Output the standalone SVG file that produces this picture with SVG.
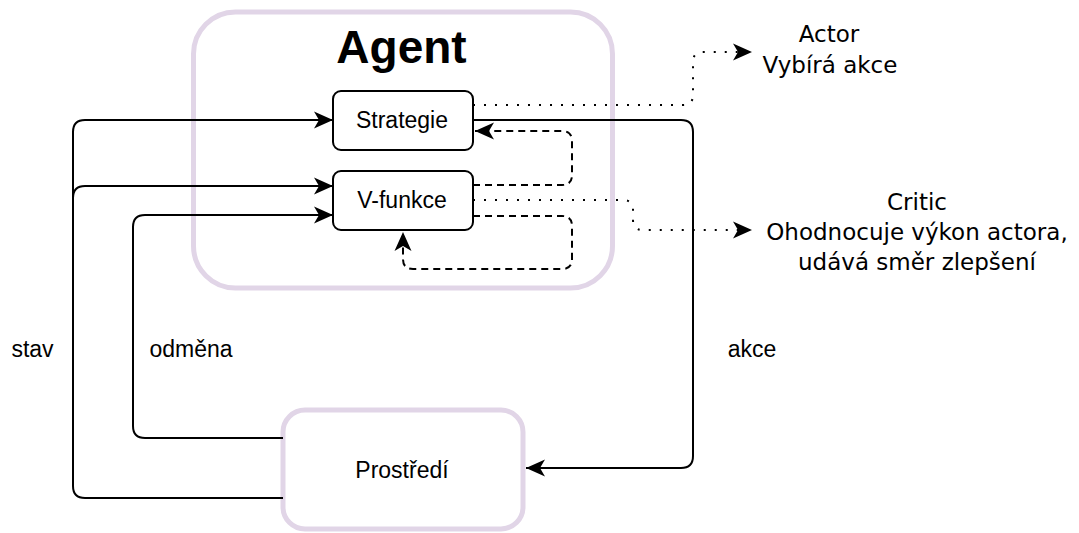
<svg xmlns="http://www.w3.org/2000/svg" width="1079" height="533" viewBox="0 0 1079 533">
  <style>
    .container { fill: #ffffff; stroke: #e1d5e7; stroke-width: 5; }
    .box { fill: #ffffff; stroke: #000000; stroke-width: 2; }
    .label { font-family: "Liberation Sans", Arial, sans-serif; font-size: 23px; fill: #000000; text-anchor: middle; }
    .title { font-family: "Liberation Sans", Arial, sans-serif; font-size: 46px; font-weight: bold; fill: #000000; text-anchor: middle; }
    .note { font-family: "DejaVu Sans", sans-serif; font-size: 23px; fill: #000000; text-anchor: middle; }
    .edge { fill: none; stroke: #000000; stroke-width: 2; }
    .dashed { stroke-dasharray: 7 5; }
    .dotted { stroke-dasharray: 2 9; }
  </style>
  <defs>
    <marker id="arrow" markerUnits="userSpaceOnUse" markerWidth="22" markerHeight="20" viewBox="-20 -10 22 20" refX="0" refY="0" orient="auto">
      <path d="M0,0 L-19,-8.5 L-14,0 L-19,8.5 Z" fill="#000000" stroke="none"/>
    </marker>
  </defs>

  <!-- Agent container -->
  <g id="agent">
    <rect class="container" x="193.5" y="12" width="419" height="276" rx="42" ry="42"/>
    <text class="title" x="401.5" y="63">Agent</text>
  </g>

  <!-- Environment -->
  <g id="prostredi">
    <rect class="container" x="283" y="410" width="240" height="119" rx="22" ry="22"/>
    <text class="label" x="402" y="478">Prostředí</text>
  </g>

  <!-- Policy -->
  <g id="strategie">
    <rect class="box" x="333" y="91" width="140" height="59" rx="8" ry="8"/>
    <text class="label" x="402" y="128">Strategie</text>
  </g>

  <!-- Value function -->
  <g id="v-funkce">
    <rect class="box" x="333" y="171" width="140" height="59" rx="8" ry="8"/>
    <text class="label" x="402" y="208">V-funkce</text>
  </g>

  <!-- Connectors -->
  <g id="connectors">
    <!-- state -->
    <path class="edge" d="M283 498 H85 Q73 498 73 486 V132 Q73 120 85 120 H333" marker-end="url(#arrow)"/>
    <path class="edge" d="M73 270 V198 Q73 186 85 186 H333" marker-end="url(#arrow)"/>
    <!-- reward -->
    <path class="edge" d="M283 438 H145 Q133 438 133 426 V227 Q133 215 145 215 H333" marker-end="url(#arrow)"/>
    <!-- action -->
    <path class="edge" d="M473 120 H681 Q693 120 693 132 V456 Q693 468 681 468 H526" marker-end="url(#arrow)"/>
    <!-- critic feedback -->
    <path class="edge dashed" d="M473 185 H562 Q572 185 572 175 V141 Q572 131 562 131 H475" marker-end="url(#arrow)"/>
    <path class="edge dashed" d="M473 216 H562 Q572 216 572 226 V259 Q572 269 562 269 H413 Q403 269 403 259 V232" marker-end="url(#arrow)"/>
    <!-- role annotations -->
    <path class="edge dotted" d="M473 105 H683 Q693 105 693 95 V62 Q693 52 703 52 H752" marker-end="url(#arrow)"/>
    <path class="edge dotted" d="M473 200 H623 Q633 200 633 210 V220 Q633 230 643 230 H752" marker-end="url(#arrow)"/>
  </g>

  <!-- Edge labels -->
  <g id="edge-labels">
    <text class="label" x="32.5" y="357">stav</text>
    <text class="label" x="191" y="357">odměna</text>
    <text class="label" x="752" y="357">akce</text>
  </g>

  <!-- Role descriptions -->
  <g id="actor-note">
    <text class="note" x="829" y="42">Actor</text>
    <text class="note" x="830" y="73">Vybírá akce</text>
  </g>
  <g id="critic-note">
    <text class="note" x="917" y="210">Critic</text>
    <text class="note" x="917" y="240">Ohodnocuje výkon actora,</text>
    <text class="note" x="917" y="270">udává směr zlepšení</text>
  </g>
</svg>
